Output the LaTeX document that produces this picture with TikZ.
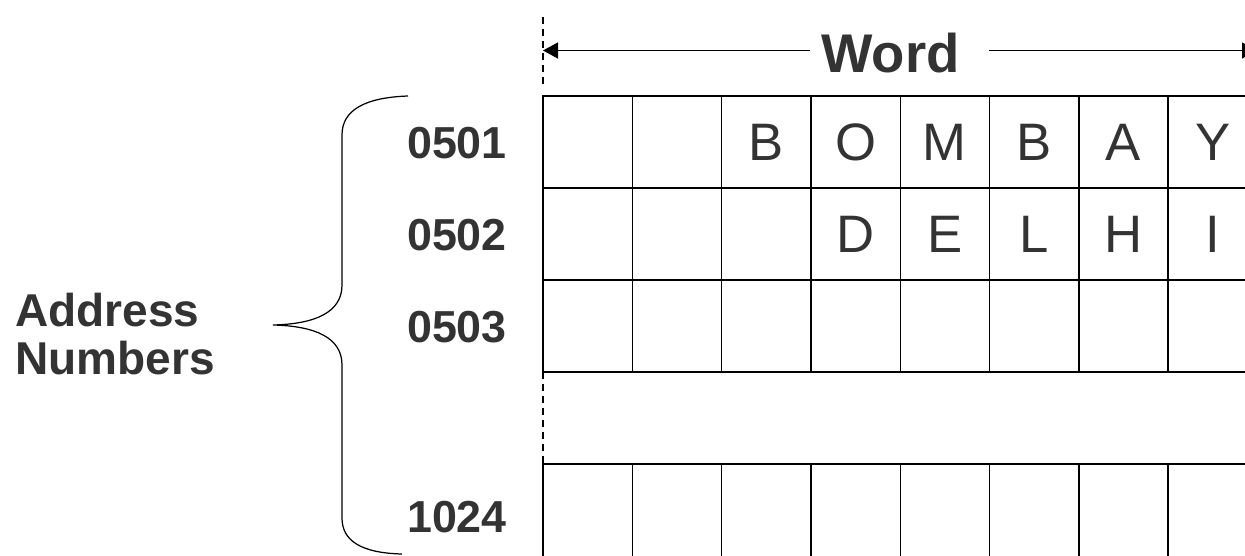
\documentclass[tikz,border=0pt]{standalone}
\usepackage{fontspec}
\setmainfont{Liberation Sans}
\usepackage{tikz}
\usetikzlibrary{arrows.meta, positioning}
\definecolor{inkgray}{HTML}{333333}

\begin{document}
\begin{tikzpicture}[
  cell/.style={rectangle, draw=black, line width=0.8pt, outer sep=0pt, inner sep=0pt,
    minimum width=1.786cm, minimum height=1.84cm, text=inkgray,
    font=\fontsize{30}{36}\selectfont},
  lastcell/.style={cell, minimum height=2.1cm},
  addr/.style={inner sep=0pt, text=inkgray, font=\bfseries\fontsize{25.5}{30}\selectfont},
  sidetext/.style={inner sep=0pt, text=inkgray, align=left,
    font=\bfseries\fontsize{26.2}{27.3}\selectfont},
  wordtext/.style={inner sep=0pt, text=inkgray, font=\bfseries\fontsize{31}{36}\selectfont},
  guide/.style={line width=0.7pt, dash pattern=on 0.14cm off 0.1cm},
  arrow/.style={-{Triangle[length=0.3cm, width=0.32cm]}, line width=0.8pt}
]
  \useasboundingbox (0,0) rectangle (24.9,11.1);
  \clip (0,0) rectangle (24.9,11.1);

  % memory rows
  \node[cell] (r1c1) at (11.753,8.26) {};
  \foreach \c/\t [count=\p from 1] in {2/{},3/B,4/O,5/M,6/B,7/A,8/Y}
    \node[cell, right=0pt of r1c\p] (r1c\c) {\t};
  \node[cell, below=0pt of r1c1] (r2c1) {};
  \foreach \c/\t [count=\p from 1] in {2/{},3/{},4/D,5/E,6/L,7/H,8/I}
    \node[cell, right=0pt of r2c\p] (r2c\c) {\t};
  \node[cell, below=0pt of r2c1] (r3c1) {};
  \foreach \c [count=\p from 1] in {2,...,8}
    \node[cell, right=0pt of r3c\p] (r3c\c) {};
  \node[lastcell, below=1.84cm of r3c1] (r4c1) {};
  \foreach \c [count=\p from 1] in {2,...,8}
    \node[lastcell, right=0pt of r4c\p] (r4c\c) {};

  % addresses
  \node[addr] (n1) at ([xshift=-1.72cm, yshift=-0.03cm]r1c1.west) {0501};
  \node[addr] (n2) at ([xshift=-1.72cm, yshift=-0.03cm]r2c1.west) {0502};
  \node[addr] (n3) at ([xshift=-1.72cm, yshift=-0.03cm]r3c1.west) {0503};
  \node[addr] (n4) at ([xshift=-1.72cm, yshift=-1.06cm]r4c1.north west) {1024};

  % dashed guides
  \draw[guide] ([yshift=0.24cm]r1c1.north west) -- ++(0,1.44);
  \draw[guide] (r3c1.south west) -- (r4c1.north west);

  % word width
  \coordinate (wl) at (10.86,10.09);
  \coordinate (wr) at (25.14,10.09);
  \node[wordtext] (word) at (17.81,10.04) {Word};
  \draw[arrow] (word.west |- wl) ++(-0.22,0) -- (wl);
  \draw[arrow] (word.east |- wr) ++(0.58,0) -- (wr);

  % brace
  \node[sidetext, anchor=west] (side) at (0.3,4.42) {Address\\Numbers};
  \coordinate (btop) at (8.16,9.18);
  \coordinate (btip) at (5.46,4.60);
  \coordinate (bbot) at (8.04,0.02);
  \draw[line width=0.7pt] (btop) .. controls (7.3,9.15) and (6.84,8.9) .. (6.84,8.4)
    -- (6.84,5.4) .. controls (6.84,4.85) and (6.3,4.62) .. (btip)
    .. controls (6.3,4.58) and (6.84,4.35) .. (6.84,3.8)
    -- (6.84,0.74) .. controls (6.84,0.3) and (7.2,0.04) .. (bbot);
\end{tikzpicture}
\end{document}
